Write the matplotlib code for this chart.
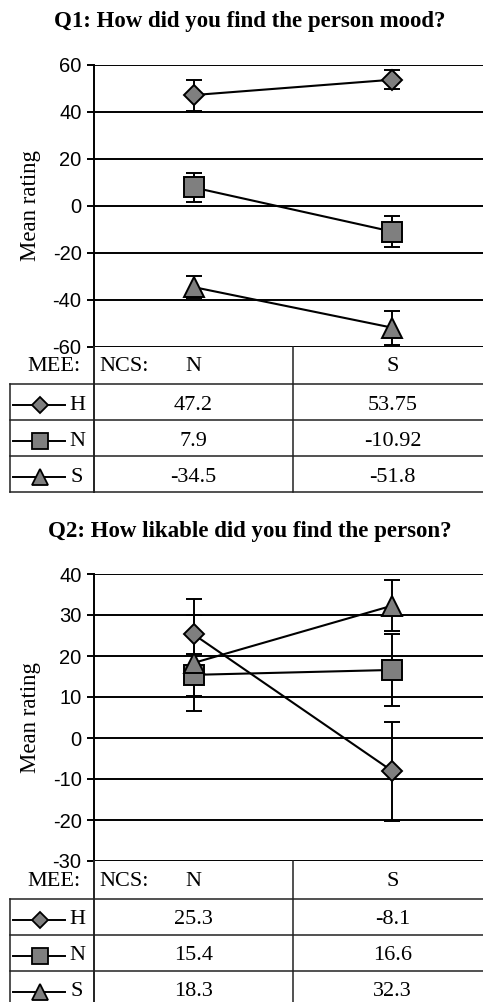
import matplotlib
matplotlib.use("Agg")
import matplotlib.pyplot as plt
from matplotlib.lines import Line2D

plt.rcParams["axes.unicode_minus"] = False

# mean ratings per MEE group (H, N, S) across NCS conditions (N, S)
ncs = ["N", "S"]
groups = ["H", "N", "S"]
markers = {"H": "D", "N": "s", "S": "^"}

q1_title = "Q1: How did you find the person mood?"
q1_means = {"H": [47.2, 53.75], "N": [7.9, -10.92], "S": [-34.5, -51.8]}
q1_err = {"H": [6.6, 4.0], "N": [6.0, 6.5], "S": [4.8, 7.3]}
q1_labels = {"H": ["47.2", "53.75"], "N": ["7.9", "-10.92"], "S": ["-34.5", "-51.8"]}
q1_ticks = [-60, -40, -20, 0, 20, 40, 60]

q2_title = "Q2: How likable did you find the person?"
q2_means = {"H": [25.3, -8.1], "N": [15.4, 16.6], "S": [18.3, 32.3]}
q2_err = {"H": [8.5, 12.1], "N": [5.2, 8.7], "S": [11.6, 6.2]}
q2_labels = {"H": ["25.3", "-8.1"], "N": ["15.4", "16.6"], "S": ["18.3", "32.3"]}
q2_ticks = [-30, -20, -10, 0, 10, 20, 30, 40]

W, H = 483, 1002
SERIF = "Liberation Serif"
SANS = "Liberation Sans"
GREY = "#7f7f7f"
msize = {"D": 10.5, "s": 14, "^": 15}
msmall = {"D": 8, "s": 11, "^": 11.5}

fig = plt.figure(figsize=(W / 100, H / 100), dpi=100)


def fx(x):
    return x / W


def fy(y):
    return 1 - y / H


def hline(x0, x1, y, lw=1.1):
    fig.add_artist(Line2D([fx(x0), fx(x1)], [fy(y), fy(y)], transform=fig.transFigure,
                          color="#222222", lw=lw))


def vline(x, y0, y1, lw=1.1):
    fig.add_artist(Line2D([fx(x), fx(x)], [fy(y0), fy(y1)], transform=fig.transFigure,
                          color="#222222", lw=lw))


def panel(title, title_y, top, bottom, means, errs, labels, ticks, hdr_h, row_h):
    left, right = 94, 492
    ax = fig.add_axes([fx(left), fy(bottom), (right - left) / W, (bottom - top) / H])
    x = [0.5, 1.5]
    for g in groups:
        ax.errorbar(x, means[g], yerr=errs[g], color="black", lw=1.5,
                    marker=markers[g], ms=msize[markers[g]], mfc=GREY, mec="black",
                    mew=1.4, ecolor="black", elinewidth=1.4, capsize=5.5, capthick=1.7,
                    zorder=3)
    ax.set_xlim(0, 2)
    ax.set_ylim(ticks[0], ticks[-1])
    ax.set_yticks(ticks)
    ax.set_xticks([])
    ax.yaxis.grid(True, color="black", lw=1.4)
    ax.set_axisbelow(True)
    for s in ["top", "right", "bottom"]:
        ax.spines[s].set_visible(False)
    ax.spines["left"].set_linewidth(1.4)
    ax.tick_params(axis="y", length=5, width=1.4, pad=4, labelsize=14.5)
    for lab in ax.get_yticklabels():
        lab.set_fontfamily(SANS)
    ax.set_ylabel("Mean rating", fontfamily=SERIF, fontsize=16.5, labelpad=8)
    fig.text(fx(250), fy(title_y), title, ha="center", va="center",
             fontfamily=SERIF, fontweight="bold", fontsize=16.5)

    # data table under the plot
    hdr_bot = bottom + hdr_h
    rows = [hdr_bot + row_h * (i + 1) for i in range(3)]
    vline(94, bottom, rows[-1], lw=1.4)
    vline(293, bottom, rows[-1])
    vline(10, hdr_bot, rows[-1])
    for y in [hdr_bot] + rows:
        hline(10, W, y)
    ty = (bottom + hdr_bot) / 2 + 1
    fig.text(fx(54), fy(ty), "MEE:", ha="center", va="center", fontfamily=SERIF, fontsize=16)
    fig.text(fx(99), fy(ty), "NCS:", ha="left", va="center", fontfamily=SERIF, fontsize=16)
    fig.text(fx(193.5), fy(ty), ncs[0], ha="center", va="center", fontfamily=SERIF, fontsize=16)
    fig.text(fx(392.5), fy(ty), ncs[1], ha="center", va="center", fontfamily=SERIF, fontsize=16)
    prev = hdr_bot
    for g, yb in zip(groups, rows):
        yc = (prev + yb) / 2 + 3
        fig.add_artist(Line2D([fx(13), fx(65)], [fy(yc), fy(yc)], transform=fig.transFigure,
                              color="black", lw=1.4))
        fig.add_artist(Line2D([fx(40)], [fy(yc)], transform=fig.transFigure,
                              marker=markers[g], ms=msmall[markers[g]], mfc=GREY,
                              mec="black", mew=1.3, ls="none"))
        fig.text(fx(77), fy(yc), g, ha="center", va="center", fontfamily=SERIF, fontsize=16)
        fig.text(fx(193.5), fy(yc), labels[g][0], ha="center", va="center",
                 fontfamily=SERIF, fontsize=16)
        fig.text(fx(392.5), fy(yc), labels[g][1], ha="center", va="center",
                 fontfamily=SERIF, fontsize=16)
        prev = yb
    return ax


panel(q1_title, 22, 65, 347, q1_means, q1_err, q1_labels, q1_ticks, 37, 36)
panel(q2_title, 532, 574, 861, q2_means, q2_err, q2_labels, q2_ticks, 38, 36)

fig.savefig("out.png", dpi=100)
